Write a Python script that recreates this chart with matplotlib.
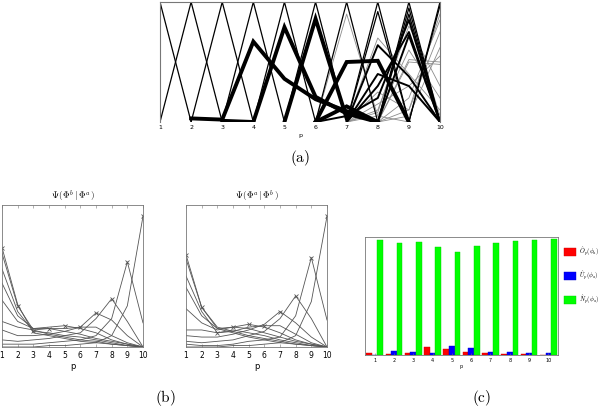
import matplotlib
matplotlib.use("Agg")
import matplotlib.pyplot as plt
import numpy as np

plt.rcParams['mathtext.fontset'] = 'cm'

nan = np.nan
p = [1, 2, 3, 4, 5, 6, 7, 8, 9, 10]
p_labels = ['1', '2', '3', '4', '5', '6', '7', '8', '9', '10']

# ---------------- panel (a): trajectories over p ----------------
traj_spikes = [
    [1, 0, nan, nan, nan, nan, nan, nan, nan, nan],
    [0, 1, 0, nan, nan, nan, nan, nan, nan, nan],
    [nan, 0, 1, 0, nan, nan, nan, nan, nan, nan],
    [nan, nan, 0, 1, 0, nan, nan, nan, nan, nan],
    [nan, nan, nan, 0, 1, 0, nan, nan, nan, nan],
    [nan, nan, nan, nan, 0, 1, 0, nan, nan, nan],
    [nan, nan, nan, nan, nan, 0, 1, 0, nan, nan],
    [nan, nan, nan, nan, nan, nan, 0, 1, 0, nan],
    [nan, nan, nan, nan, nan, nan, nan, 0, 1, 0],
    [nan, nan, nan, nan, nan, nan, nan, nan, 0, 1],
    [nan, nan, nan, nan, nan, nan, 0, 0.92, 0, nan],
    [nan, nan, nan, nan, nan, nan, nan, 0, 0.95, 0],
    [nan, nan, nan, nan, nan, nan, nan, 0, 0.90, 0],
    [nan, nan, nan, nan, nan, nan, nan, nan, 0, 0.97],
]
traj_thick = [
    [nan, 0.03, 0.02, 0.67, 0.36, 0.19, 0.09, 0, nan, nan],
    [nan, nan, nan, 0, 0.79, 0.21, 0.07, 0, nan, nan],
    [nan, nan, nan, nan, nan, 0, 0.50, 0.51, 0, nan],
    [nan, nan, nan, nan, 0, 0.86, 0.03, nan, nan, nan],
    [nan, nan, nan, nan, nan, 0, 0.13, 0, nan, nan],
    [nan, nan, 0.01, 0, nan, nan, nan, nan, nan, nan],
]
traj_mid = [
    [nan, nan, nan, nan, nan, nan, 0, 0.64, 0.38, 0],
    [nan, nan, nan, nan, nan, nan, nan, 0, 0.72, 0],
    [nan, nan, nan, nan, nan, nan, 0, 0.30, 0.75, 0],
    [nan, nan, nan, nan, nan, nan, 0, 0.40, 0.30, 0],
    [nan, nan, nan, nan, nan, 0, 0.05, 0.20, 0.85, 0],
]
traj_gray = [
    [nan, nan, nan, nan, nan, nan, nan, 0, 0.52, 0.50],
    [nan, nan, nan, nan, nan, nan, nan, 0, 0.50, 0.48],
    [nan, nan, nan, nan, nan, nan, nan, 0, 0.20, 0.85],
    [nan, nan, nan, nan, nan, nan, nan, 0, 0.10, 0.75],
    [nan, nan, nan, nan, nan, nan, nan, 0, 0.05, 0.62],
    [nan, nan, nan, nan, nan, nan, 0, 0.70, 0.40, 0.10],
    [nan, nan, nan, nan, nan, nan, 0, 0.10, 0.80, 0.30],
    [nan, nan, nan, nan, nan, nan, 0, 0.05, 0.60, 0.20],
    [nan, nan, nan, nan, nan, nan, 0, 0.15, 0.30, 0.55],
    [nan, nan, nan, nan, nan, 0, 0.90, 0.05, 0, nan],
    [nan, nan, nan, nan, nan, nan, 0, 0.25, 0.10, 0.90],
    [nan, nan, nan, nan, nan, nan, 0, 0.08, 0.88, 0.05],
    [nan, nan, nan, nan, nan, nan, 0, 0, 0, 0],
]

# ---------------- panel (b) ----------------
psi_ba = [
    [0.70, 0.30, 0.10, 0.08, 0.06, 0.04, 0.03, 0.02, 0.01, 0.00],
    [0.66, 0.29, 0.12, 0.09, 0.07, 0.05, 0.04, 0.02, 0.01, 0.00],
    [0.55, 0.25, 0.11, 0.10, 0.08, 0.07, 0.05, 0.03, 0.01, 0.00],
    [0.45, 0.22, 0.13, 0.13, 0.11, 0.09, 0.06, 0.04, 0.02, 0.00],
    [0.33, 0.18, 0.13, 0.14, 0.15, 0.13, 0.10, 0.05, 0.02, 0.00],
    [0.18, 0.14, 0.12, 0.13, 0.13, 0.14, 0.14, 0.08, 0.03, 0.00],
    [0.12, 0.08, 0.08, 0.09, 0.11, 0.14, 0.24, 0.19, 0.08, 0.00],
    [0.05, 0.04, 0.05, 0.06, 0.08, 0.10, 0.20, 0.34, 0.18, 0.00],
    [0.02, 0.02, 0.02, 0.03, 0.04, 0.05, 0.08, 0.20, 0.60, 0.17],
    [0.00, 0.00, 0.00, 0.01, 0.01, 0.02, 0.03, 0.08, 0.29, 0.92],
]
psi_ab = [
    [0.65, 0.28, 0.13, 0.10, 0.07, 0.05, 0.03, 0.02, 0.01, 0.00],
    [0.62, 0.28, 0.14, 0.11, 0.08, 0.06, 0.04, 0.02, 0.01, 0.00],
    [0.50, 0.25, 0.10, 0.12, 0.10, 0.08, 0.05, 0.03, 0.01, 0.00],
    [0.42, 0.22, 0.13, 0.14, 0.13, 0.10, 0.07, 0.04, 0.02, 0.00],
    [0.27, 0.17, 0.12, 0.14, 0.16, 0.14, 0.10, 0.05, 0.02, 0.00],
    [0.12, 0.12, 0.10, 0.11, 0.14, 0.15, 0.15, 0.09, 0.03, 0.00],
    [0.08, 0.07, 0.07, 0.09, 0.12, 0.16, 0.25, 0.17, 0.07, 0.00],
    [0.04, 0.03, 0.04, 0.05, 0.08, 0.11, 0.20, 0.36, 0.20, 0.00],
    [0.02, 0.01, 0.01, 0.02, 0.04, 0.05, 0.07, 0.22, 0.63, 0.19],
    [0.00, 0.00, 0.00, 0.01, 0.01, 0.02, 0.03, 0.08, 0.32, 0.92],
]

# ---------------- panel (c) ----------------
O_hat = [0.014, 0.011, 0.017, 0.065, 0.048, 0.023, 0.020, 0.008, 0.005, 0.000]
U_hat = [0.002, 0.031, 0.023, 0.017, 0.073, 0.056, 0.025, 0.023, 0.014, 0.014]
N_hat = [0.977, 0.952, 0.955, 0.913, 0.873, 0.921, 0.952, 0.963, 0.972, 0.980]
legend_labels = [r'$\hat{O}_p(\phi_a)$', r'$\hat{U}_p(\phi_a)$', r'$\hat{N}_p(\phi_a)$']

W, H = 600, 412
fig = plt.figure(figsize=(W / 100, H / 100), dpi=100)


def ax_px(x0, y0, x1, y1):
    return fig.add_axes([x0 / W, 1 - y1 / H, (x1 - x0) / W, (y1 - y0) / H])


frame_col = '#777777'

# panel (a)
ax = ax_px(160, 2, 440, 122)
for t in traj_gray:
    ax.plot(p, t, color='#8c8c8c', lw=0.6)
for t in traj_spikes:
    ax.plot(p, t, color='black', lw=0.9)
for t in traj_mid:
    ax.plot(p, t, color='black', lw=1.4)
for t in traj_thick:
    ax.plot(p, t, color='black', lw=2.8, solid_joinstyle='miter')
ax.set_xlim(1, 10)
ax.set_ylim(0, 1)
ax.set_xticks(p)
ax.set_xticklabels(p_labels, fontsize=4.5)
ax.set_yticks([])
ax.tick_params(axis='x', length=0, pad=2)
ax.set_xlabel('p', fontsize=4.5, labelpad=2)
for s in ax.spines.values():
    s.set_color(frame_col)
    s.set_linewidth(0.8)
ax.spines['bottom'].set_visible(False)
fig.text(300 / W, 1 - 158 / H, r'$\mathrm{(a)}$', ha='center', va='center', fontsize=11)

# panel (b)
for (x0, x1), data, title in [((2, 143), psi_ba, r'$\Psi(\,\Phi^b\,|\,\Phi^a\,)$'),
                              ((186, 327), psi_ab, r'$\Psi(\,\Phi^a\,|\,\Phi^b\,)$')]:
    axb = ax_px(x0, 205, x1, 347)
    for k, curve in enumerate(data):
        axb.plot(p, curve, color='#555555', lw=0.6)
        axb.plot(p[k], curve[k], marker='x', color='#555555', ms=2.5, mew=0.6)
    axb.set_xlim(1, 10)
    axb.set_ylim(0, 1)
    axb.set_xticks(p)
    axb.set_xticklabels(p_labels, fontsize=5.5)
    axb.set_yticks([])
    axb.tick_params(axis='x', direction='in', length=2, width=0.4, pad=3,
                    top=True, color=frame_col)
    axb.set_xlabel('p', fontsize=6, labelpad=1)
    axb.set_title(title, fontsize=6.5, pad=4)
    for s in axb.spines.values():
        s.set_color(frame_col)
        s.set_linewidth(0.6)
fig.text(165 / W, 1 - 398 / H, r'$\mathrm{(b)}$', ha='center', va='center', fontsize=11)

# panel (c)
axc = ax_px(365, 237, 558, 355)
x = np.array(p)
bw = 0.29
b1 = axc.bar(x - bw, O_hat, bw, color='#ff0000', edgecolor='#cc0000', lw=0.3)
b2 = axc.bar(x, U_hat, bw, color='#0000ff', edgecolor='#0000cc', lw=0.3)
b3 = axc.bar(x + bw, N_hat, bw, color='#00ff00', edgecolor='#00cc00', lw=0.3)
axc.set_xlim(0.5, 10.5)
axc.set_ylim(0, 1)
axc.set_xticks(p)
axc.set_xticklabels(p_labels, fontsize=3.5)
axc.set_yticks([])
axc.tick_params(axis='x', direction='in', length=1.5, width=0.4, pad=2, color=frame_col)
axc.set_xlabel('p', fontsize=3.5, labelpad=1)
for s in axc.spines.values():
    s.set_color(frame_col)
    s.set_linewidth(0.6)
fig.legend([b1, b2, b3], legend_labels, loc='upper left',
           bbox_to_anchor=(564 / W, 1 - 245 / H), frameon=False, fontsize=4.5,
           handlelength=1.9, handleheight=1.7, labelspacing=1.8, handletextpad=0.5,
           borderpad=0, borderaxespad=0)
fig.text(482 / W, 1 - 398 / H, r'$\mathrm{(c)}$', ha='center', va='center', fontsize=11)

fig.savefig('out.png', dpi=100)
